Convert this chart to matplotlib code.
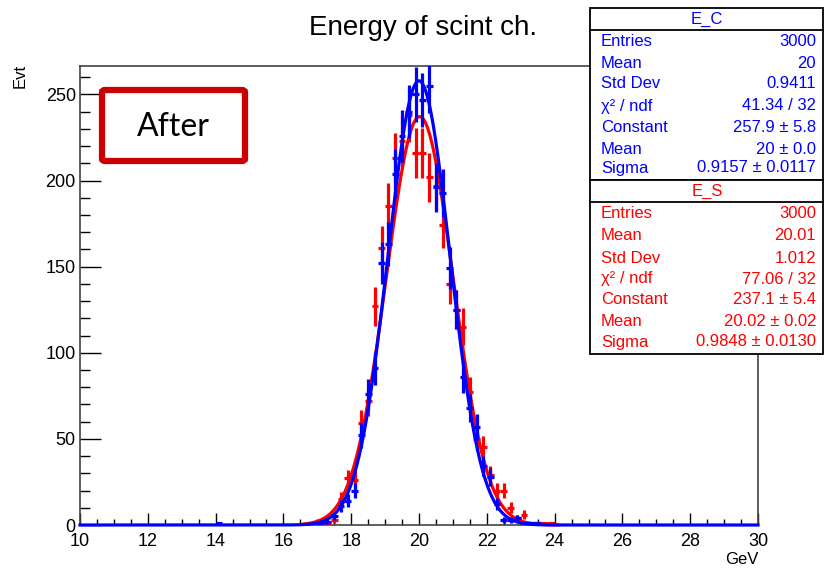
import numpy as np
import matplotlib
matplotlib.use('Agg')
import matplotlib.pyplot as plt
from matplotlib.patches import Rectangle, FancyBboxPatch

W, H = 825, 569

# bin centres (0.2 GeV bins), only the filled region; the rest is empty
centres = [16.9, 17.1, 17.3, 17.5, 17.7, 17.9, 18.1, 18.3, 18.5, 18.7,
           18.9, 19.1, 19.3, 19.5, 19.7, 19.9, 20.1, 20.3, 20.5, 20.7,
           20.9, 21.1, 21.3, 21.5, 21.7, 21.9, 22.1, 22.3, 22.5, 22.7,
           22.9, 23.1, 23.3, 23.5, 23.7, 23.9]
counts_C = [0, 1, 2, 5, 11, 14, 20, 52, 76, 91,
            152, 163, 204, 226, 240, 250, 247, 255, 196, 193,
            149, 125, 86, 68, 57, 34, 28, 12, 3, 3,
            4, 1, 1, 1, 0, 0]
counts_S = [0, 1, 1, 3, 15, 27, 26, 59, 72, 127,
            161, 185, 213, 223, 238, 216, 216, 202, 197, 174,
            140, 125, 115, 77, 50, 45, 29, 20, 20, 10,
            4, 6, 1, 1, 1, 1]
# lone entry far from the peak in E_C
extra_C_x = [14.1]
extra_C_n = [1]

# fit parameters (from the stats boxes)
fit_C = (257.9, 20.0, 0.9157)
fit_S = (237.1, 20.02, 0.9848)

stats_C = [("Entries", "3000"), ("Mean", "20"), ("Std Dev", "0.9411"),
           ("χ² / ndf", "41.34 / 32"), ("Constant", "257.9 ± 5.8"),
           ("Mean", "20 ± 0.0"), ("Sigma", "0.9157 ± 0.0117")]
stats_S = [("Entries", "3000"), ("Mean", "20.01"), ("Std Dev", "1.012"),
           ("χ² / ndf", "77.06 / 32"), ("Constant", "237.1 ± 5.4"),
           ("Mean", "20.02 ± 0.02"), ("Sigma", "0.9848 ± 0.0130")]

BLUE = '#0000ff'
RED = '#ff0000'
FONT = 'Liberation Sans'
plt.rcParams['font.family'] = [FONT, 'DejaVu Sans']


def fx(x):
    return x / W


def fy(y):
    return 1 - y / H


def gaus(x, p):
    c, m, s = p
    return c * np.exp(-0.5 * ((x - m) / s) ** 2)


fig = plt.figure(figsize=(W / 100, H / 100), dpi=100)
ax = fig.add_axes([fx(80), fy(525), (758 - 80) / W, (525 - 66) / H])

ax.set_xlim(10, 30)
ax.set_ylim(0, 266.5)

def draw_hist(xs, ns, col, z):
    xs = np.array(xs, float)
    ns = np.array(ns, float)
    m = ns > 0
    ax.errorbar(xs[m], ns[m], xerr=0.1, yerr=np.sqrt(ns[m]), fmt='none',
                ecolor=col, elinewidth=2.3, capsize=0, zorder=z)

draw_hist(centres, counts_S, RED, 3)
xs_S = np.linspace(16.6, 24.1, 400)
ax.plot(xs_S, gaus(xs_S, fit_S), color=RED, lw=2.3, zorder=4, clip_on=False)

draw_hist(centres, counts_C, BLUE, 5)
draw_hist(extra_C_x, extra_C_n, BLUE, 5)
xs_C = np.linspace(10, 30, 1200)
ax.plot(xs_C, gaus(xs_C, fit_C), color=BLUE, lw=2.3, zorder=6, clip_on=False)

# ROOT-like axes
ax.set_xticks(np.arange(10, 31, 2))
ax.set_xticks(np.arange(10, 30.1, 0.5), minor=True)
ax.set_yticks(np.arange(0, 251, 50))
ax.set_yticks(np.arange(0, 266, 10), minor=True)
ax.tick_params(axis='x', which='major', direction='in', length=9, width=1, pad=6, labelsize=13)
ax.tick_params(axis='x', which='minor', direction='in', length=4.5, width=1)
ax.tick_params(axis='y', which='major', direction='in', length=15, width=1, pad=3, labelsize=13)
ax.tick_params(axis='y', which='minor', direction='in', length=7.5, width=1)
for sp in ax.spines.values():
    sp.set_color('#444444')
    sp.set_linewidth(1.2)

fig.text(fx(20), fy(64), "Evt", rotation=90, ha='center', va='top', fontsize=12)
fig.text(fx(758), fy(560), "GeV", ha='right', va='center', fontsize=12)
fig.text(fx(423), fy(28), "Energy of scint ch.", ha='center', va='center', fontsize=20)

# "After" label box
box = FancyBboxPatch((fx(102), fy(161)), fx(143), (161 - 90) / H,
                     boxstyle="round,pad=0,rounding_size=0.004",
                     transform=fig.transFigure, fc='white', ec='#cc0000', lw=4.5, zorder=10)
fig.patches.append(box)
fig.text(fx(173), fy(127), "After", ha='center', va='center', fontsize=23,
         family=['Lato', 'DejaVu Sans'], zorder=11)

# stats boxes
def stats_box(top, title, rows, col, ys):
    bottom = ys[-1] + 12
    fig.patches.append(Rectangle((fx(590), fy(bottom)), fx(823 - 590), (bottom - top) / H,
                                 transform=fig.transFigure, fc='white', ec='black', lw=1.3, zorder=20))
    fig.lines.append(plt.Line2D([fx(590), fx(823)], [fy(top + 22), fy(top + 22)],
                                transform=fig.transFigure, color='black', lw=1.3, zorder=21))
    fig.text(fx(707), fy(top + 11), title, color=col, ha='center', va='center', fontsize=12, zorder=22)
    for (lab, val), y in zip(rows, ys):
        fig.text(fx(601), fy(y), lab, color=col, ha='left', va='center', fontsize=12, zorder=22)
        fig.text(fx(816), fy(y), val, color=col, ha='right', va='center', fontsize=12, zorder=22)

stats_box(8, "E_C", stats_C, BLUE, [42, 63, 84, 106, 128, 150, 168])
stats_box(180, "E_S", stats_S, RED, [214, 236, 258, 279, 300, 322, 342])

fig.savefig('out.png', dpi=100)
